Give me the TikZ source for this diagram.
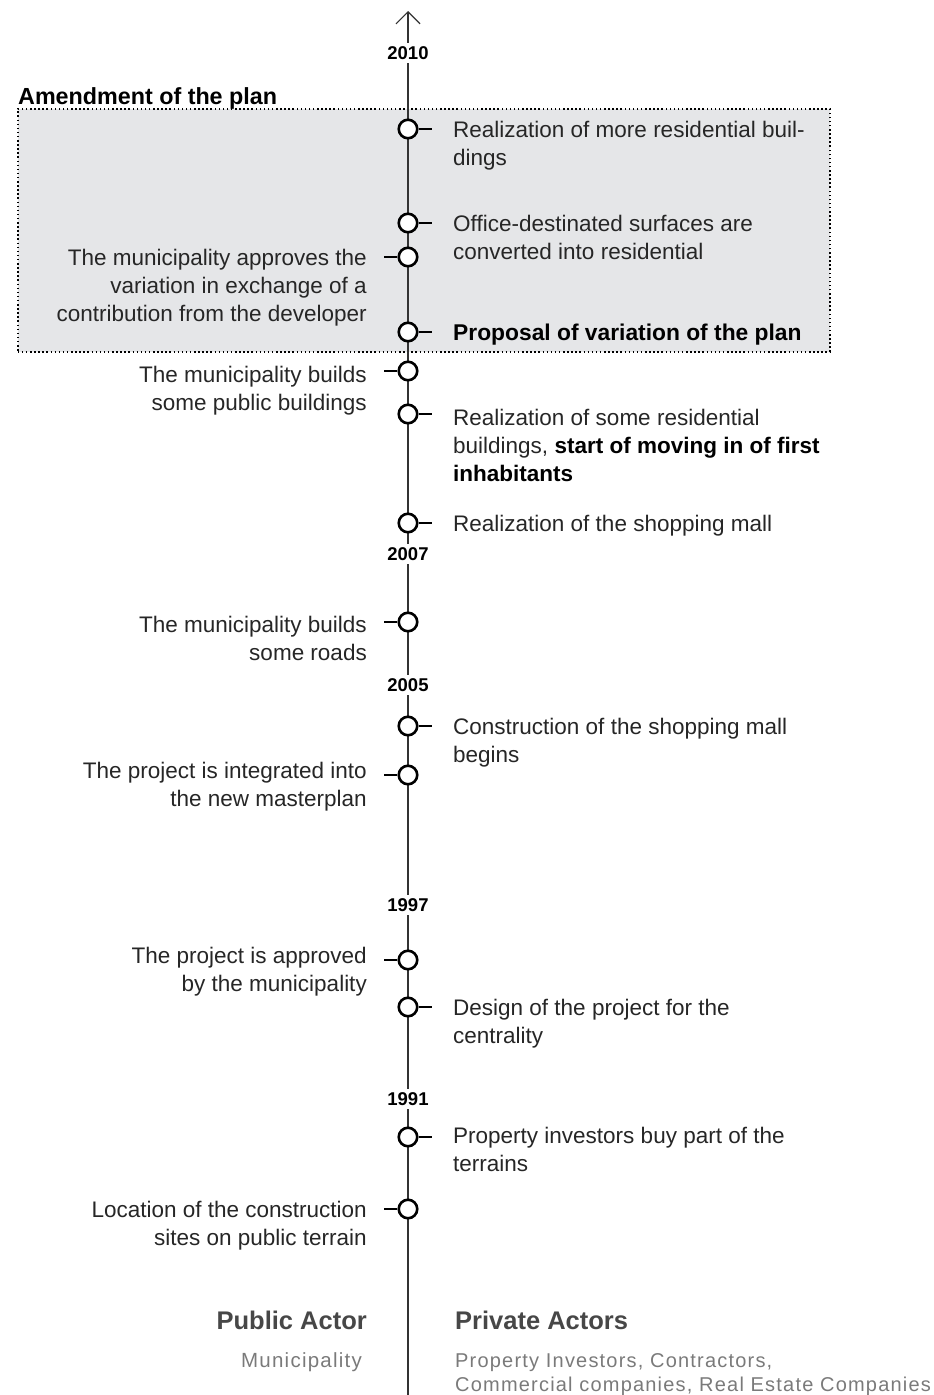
\documentclass[tikz,border=0pt]{standalone}
\usepackage{fontspec}
\setmainfont{Liberation Sans}
\newfontfamily\spacedfont[LetterSpace=6]{Liberation Sans}
\usetikzlibrary{arrows.meta}
\definecolor{boxgray}{HTML}{E5E6E8}
\definecolor{headgray}{HTML}{474747}
\definecolor{subgray}{HTML}{7A7A7A}
\definecolor{bodytext}{HTML}{262626}
\newcommand\rlines[1]{\begin{tabular}[t]{@{}l@{}}#1\end{tabular}}
\newcommand\llines[1]{\begin{tabular}[t]{@{}r@{}}#1\end{tabular}}
\tikzset{
  ev/.style={circle, draw=black, line width=2.6pt, fill=white, minimum size=18.5pt, inner sep=0pt},
  tickline/.style={line width=2.2pt, draw=black},
  rtxt/.style={anchor=base west, inner sep=0pt, text=bodytext, font=\fontsize{22.5}{28}\selectfont},
  ltxt/.style={anchor=base east, inner sep=0pt, text=bodytext, font=\fontsize{22.5}{28}\selectfont},
  year/.style={fill=white, inner sep=3pt, font=\bfseries\fontsize{18.5}{18.5}\selectfont},
  mainline/.style={line width=1.4pt, draw=black!80},
}
\begin{document}
\begin{tikzpicture}[x=1pt,y=-1pt]
\useasboundingbox (0,0) rectangle (934,1395);
% amendment box
\node[anchor=north west, inner sep=0pt, minimum width=812pt, minimum height=243pt, fill=boxgray, draw=black, line width=1.5pt, dash pattern=on 1.5pt off 2.6pt] (box) at (17,108) {};
\node[anchor=base west, inner sep=0pt, font=\bfseries\fontsize{23.3}{23.3}\selectfont] (amend) at (18,104) {Amendment of the plan};
% main line
\coordinate (bottom) at (408,1395);
\coordinate (top) at (408,11);
\draw[mainline, -{Straight Barb[length=12pt,width=24pt,line width=1.2pt]}] (bottom) -- (top);
% years
\node[year] (y2010) at (408,53) {2010};
\node[year] (y2007) at (408,554) {2007};
\node[year] (y2005) at (408,685) {2005};
\node[year] (y1997) at (408,905) {1997};
\node[year] (y1991) at (408,1099) {1991};
% right events
\node[ev] (r1) at (408,129) {};
\node[ev] (r2) at (408,223) {};
\node[ev] (r3) at (408,332) {};
\node[ev] (r4) at (408,414) {};
\node[ev] (r5) at (408,523) {};
\node[ev] (r6) at (408,726) {};
\node[ev] (r7) at (408,1007) {};
\node[ev] (r8) at (408,1137) {};
\foreach \n in {r1,r2,r3,r4,r5,r6,r7,r8} {\draw[tickline] (\n.east) -- ++(13,0);}
% left events
\node[ev] (l1) at (408,257) {};
\node[ev] (l2) at (408,371) {};
\node[ev] (l3) at (408,622) {};
\node[ev] (l4) at (408,775) {};
\node[ev] (l5) at (408,960) {};
\node[ev] (l6) at (408,1209) {};
\foreach \n in {l1,l2,l3,l4,l5,l6} {\draw[tickline] (\n.west) -- ++(-13,0);}
% right texts
\node[rtxt] (t r1) at (453,137) {\rlines{Realization of more residential buil-\\dings}};
\node[rtxt] (t r2) at (453,231) {\rlines{Office-destinated surfaces are\\converted into residential}};
\node[rtxt, text=black, font=\bfseries\fontsize{22.8}{28}\selectfont] (t r3) at (453,340) {Proposal of variation of the plan};
\node[rtxt] (t r4) at (453,425) {\rlines{Realization of some residential\\buildings, \textcolor{black}{\textbf{start of moving in of first}}\\\textcolor{black}{\textbf{inhabitants}}}};
\node[rtxt] (t r5) at (453,531) {Realization of the shopping mall};
\node[rtxt] (t r6) at (453,734) {\rlines{Construction of the shopping mall\\begins}};
\node[rtxt] (t r7) at (453,1015) {\rlines{Design of the project for the\\centrality}};
\node[rtxt] (t r8) at (453,1143) {\rlines{Property investors buy part of the\\terrains}};
% left texts
\node[ltxt] (t l1) at (367,265) {\llines{The municipality approves the\\variation in exchange of a\\contribution from the developer}};
\node[ltxt] (t l2) at (367,382) {\llines{The municipality builds\\some public buildings}};
\node[ltxt] (t l3) at (367,632) {\llines{The municipality builds\\some roads}};
\node[ltxt] (t l4) at (367,778) {\llines{The project is integrated into\\the new masterplan}};
\node[ltxt] (t l5) at (367,963) {\llines{The project is approved\\by the municipality}};
\node[ltxt] (t l6) at (367,1217) {\llines{Location of the construction\\sites on public terrain}};
% actors
\node[anchor=base east, inner sep=0pt, text=headgray, font=\bfseries\fontsize{25.5}{25.5}\selectfont] (pub) at (367,1329) {Public Actor};
\node[anchor=base east, inner sep=0pt, text=subgray, font=\spacedfont\fontsize{20.5}{20.5}\selectfont] (mun) at (362,1367) {Municipality};
\node[anchor=base west, inner sep=0pt, text=headgray, font=\bfseries\fontsize{25.5}{25.5}\selectfont] (priv) at (455,1329) {Private Actors};
\node[anchor=base west, inner sep=0pt, text=subgray, font=\spacedfont\fontsize{20}{24.5}\selectfont] (privlist) at (455,1367) {\rlines{Property Investors, Contractors,\\Commercial companies, Real Estate Companies}};
\end{tikzpicture}
\end{document}
